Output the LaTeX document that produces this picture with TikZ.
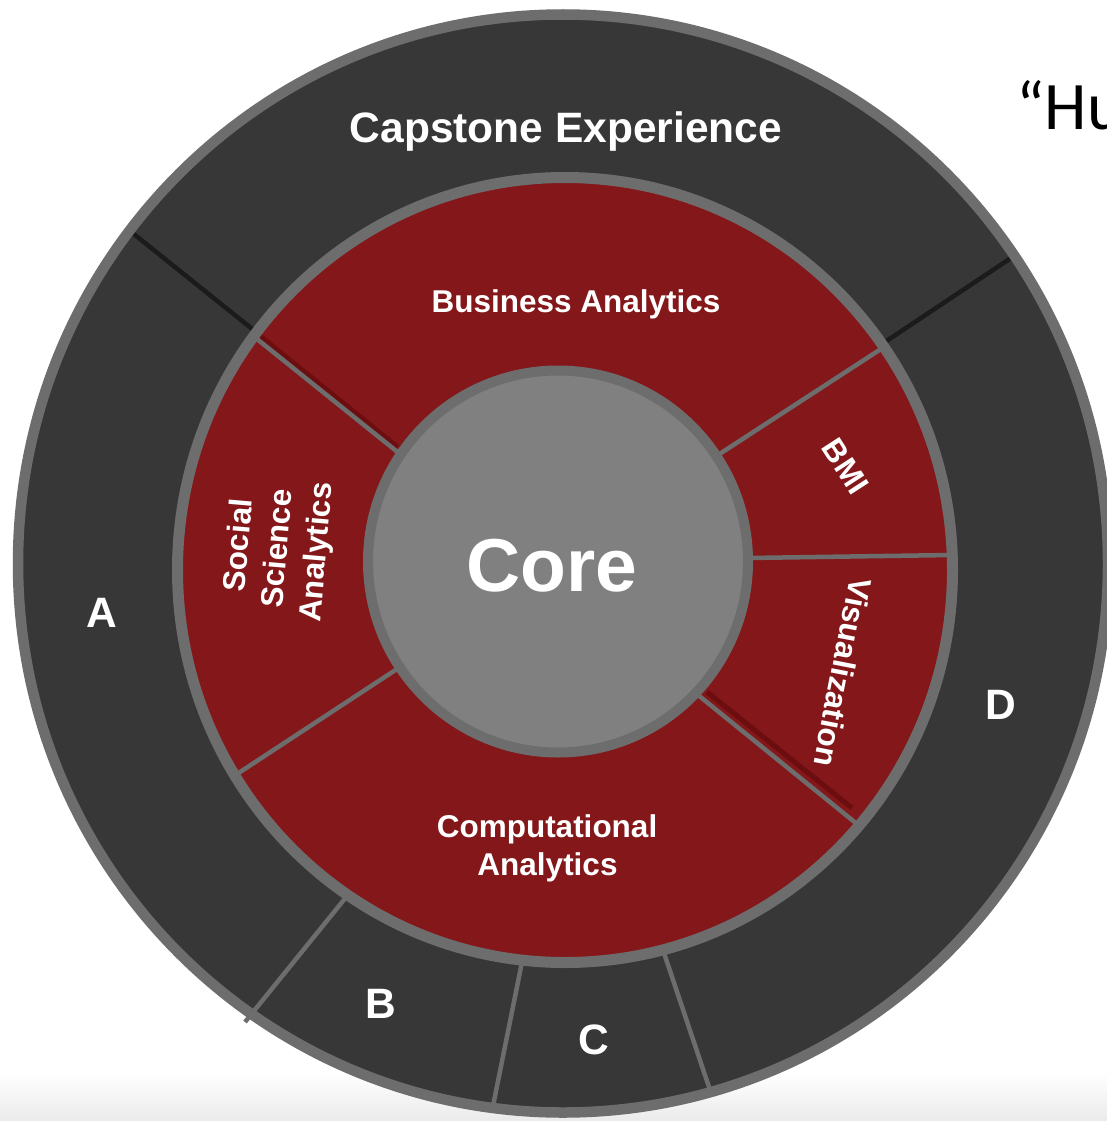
\documentclass[tikz,border=0pt]{standalone}
\usepackage{fontspec}
\setmainfont{Liberation Sans}
\newfontfamily\quotefont{Carlito}
\definecolor{ringgray}{HTML}{6D6D6D}
\definecolor{darkfill}{HTML}{373737}
\definecolor{blackline}{HTML}{1B1B1B}
\definecolor{redfill}{HTML}{83171A}
\definecolor{redshadow}{HTML}{6C0D10}
\definecolor{corefill}{HTML}{808080}
\begin{document}
\begin{tikzpicture}[x=1pt,y=-1pt,
  lbl/.style={text=white, inner sep=0pt, font=\bfseries\fontsize{31.5}{38}\selectfont, text height=22.6pt, text depth=0pt},
  biglbl/.style={text=white, inner sep=0pt, font=\bfseries\fontsize{42.5}{50}\selectfont, text height=30.4pt, text depth=0pt},
  corelbl/.style={text=white, inner sep=0pt, font=\bfseries\fontsize{75}{80}\selectfont, text height=53.7pt, text depth=0pt},
  divgray/.style={draw=ringgray, line width=4.5pt},
  divblack/.style={draw=blackline, line width=4.5pt},
  divshadow/.style={draw=redshadow, line width=5pt},
]
\useasboundingbox (0,0) rectangle (1107,1121);
\clip (0,0) rectangle (1107,1121);
% page background with faint band at the bottom
\fill[white] (0,0) rectangle (1107,1121);
\shade[top color=white, bottom color=black!8] (0,1072) rectangle (1107,1121);

% centres
\coordinate (co) at (563,563.5);
\coordinate (cr) at (565,570);
\coordinate (cc) at (558,561.5);

% outer ring
\fill[darkfill] (co) ellipse[x radius=545pt, y radius=549pt];
% outer ring divisions
\coordinate (capA1) at (130,231);  \coordinate (capA2) at (256,332);
\coordinate (capD1) at (1017,254); \coordinate (capD2) at (885,342);
\coordinate (ab1) at (245,1022);   \coordinate (ab2) at (347,896);
\coordinate (bc1) at (492,1111);   \coordinate (bc2) at (522,962);
\coordinate (cd1) at (712,1096);   \coordinate (cd2) at (663,950);
\draw[divblack] (capA1) -- (capA2);
\draw[divblack] (capD1) -- (capD2);
\draw[divgray] (ab1) -- (ab2);
\draw[divgray] (bc1) -- (bc2);
\draw[divgray] (cd1) -- (cd2);
\draw[ringgray, line width=10.5pt] (co) ellipse[x radius=545pt, y radius=549pt];

% red ring
\fill[redfill] (cr) ellipse[x radius=387.5pt, y radius=392.5pt];
\coordinate (sb1) at (252,335);   \coordinate (sb2) at (400,454);
\coordinate (sbs1) at (257.5,334); \coordinate (sbs2) at (397.5,447);
\coordinate (bb1) at (884,347);   \coordinate (bb2) at (718,455);
\coordinate (bv1) at (952,555);   \coordinate (bv2) at (748,558);
\coordinate (vc1) at (857,824);   \coordinate (vc2) at (698,695);
\coordinate (vcs1) at (852,808);  \coordinate (vcs2) at (707,692);
\coordinate (cs1) at (234,776);   \coordinate (cs2) at (397,669);
\draw[divshadow] (sbs1) -- (sbs2);
\draw[divshadow] (vcs1) -- (vcs2);
\draw[divgray] (sb1) -- (sb2);
\draw[divgray] (bb1) -- (bb2);
\draw[divgray] (bv1) -- (bv2);
\draw[divgray] (vc1) -- (vc2);
\draw[divgray] (cs1) -- (cs2);
\draw[ringgray, line width=11pt] (cr) ellipse[x radius=387.5pt, y radius=392.5pt];

% core
\fill[corefill] (cc) ellipse[x radius=190pt, y radius=191pt];
\draw[ringgray, line width=10pt] (cc) ellipse[x radius=190pt, y radius=191pt];

% labels
\node[biglbl] (capstone) at (566,127) {Capstone Experience};
\node[lbl] (business) at (576,301.5) {Business Analytics};
\node[lbl, rotate=-57] (bmi) at (846,466) {BMI};
\node[lbl, rotate=-101] (vis) at (843,672.5) {Visualization};
\node[lbl, rotate=85] (social) at (237,545) {Social};
\node[lbl, rotate=85] (science) at (276,548.5) {Science};
\node[lbl, rotate=85] (analytics1) at (315,552) {Analytics};
\node[lbl] (comp) at (547,826) {Computational};
\node[lbl] (analytics2) at (547.5,864) {Analytics};
\node[corelbl] (core) at (552,565) {Core};
\node[biglbl] (la) at (101.5,612.5) {A};
\node[biglbl] (lb) at (380.5,1003) {B};
\node[biglbl] (lc) at (594,1039) {C};
\node[biglbl] (ld) at (1000.5,704.5) {D};
\node[anchor=base west, inner sep=0pt, font=\quotefont\fontsize{68}{70}\selectfont, text=black] (hu) at (1016,130) {“Hu};
\end{tikzpicture}
\end{document}
